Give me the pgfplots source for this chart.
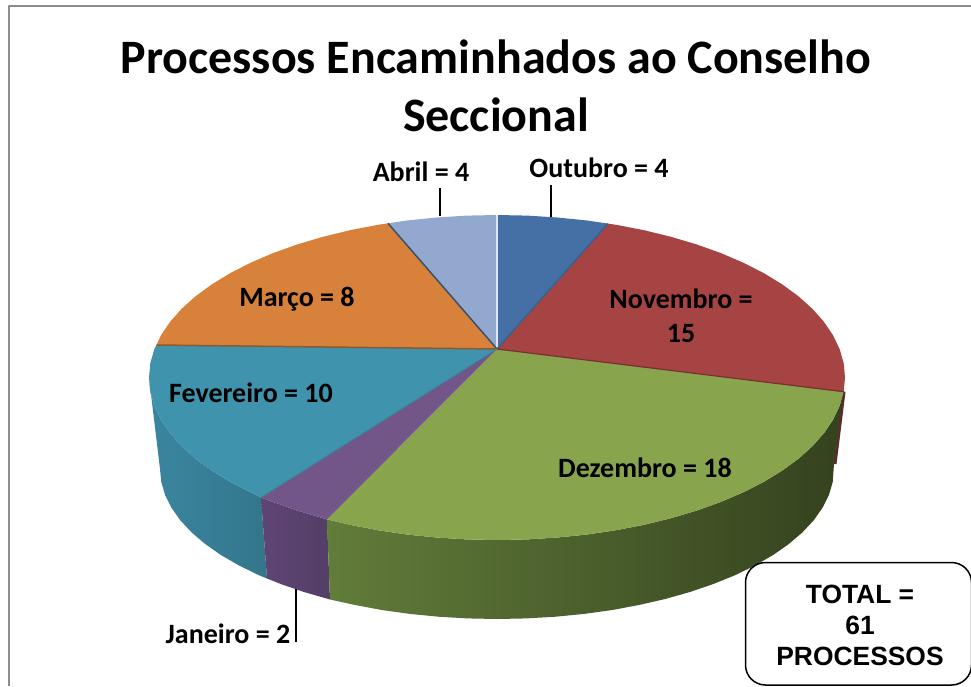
\documentclass[border=0pt]{standalone}
\usepackage{fontspec}
\setmainfont{Carlito}
\newfontfamily\arialf{Liberation Sans}
\usepackage{pgfplots}
\pgfplotsset{compat=1.18}
\definecolor{cOut}{HTML}{4470A5}
\definecolor{cNov}{HTML}{A64444}
\definecolor{cDez}{HTML}{88A54D}
\definecolor{cJan}{HTML}{72568A}
\definecolor{cFev}{HTML}{3F93AD}
\definecolor{cMar}{HTML}{D8813A}
\definecolor{cAbr}{HTML}{92A8CF}
\definecolor{wFevL}{HTML}{3A869F}
\definecolor{wFevR}{HTML}{33768B}
\definecolor{wJanL}{HTML}{5F4575}
\definecolor{wJanR}{HTML}{533E66}
\definecolor{wDezL}{HTML}{627C3A}
\definecolor{wDezM}{HTML}{3F4F25}
\definecolor{wDezR}{HTML}{34421E}
\definecolor{wNov}{HTML}{5E2A2E}
\definecolor{frame}{HTML}{8C8C8C}
\definecolor{sAO}{HTML}{DFE6F0}
\definecolor{sMA}{HTML}{3B5069}
\definecolor{sON}{HTML}{3D5F8C}
\definecolor{sFM}{HTML}{8C5A30}
\definecolor{sND}{HTML}{7A3030}
\definecolor{sFJ}{HTML}{3A7F96}
\newcommand{\lab}{\fontsize{28}{34}\selectfont\bfseries}
\begin{document}
\begin{tikzpicture}[x=1pt,y=1pt]
\path[use as bounding box] (0,0) rectangle (971,686);
\begin{axis}[
 at={(0,0)},anchor=south west,
 scale only axis,width=971pt,height=686pt,
 xmin=0,xmax=971,ymin=0,ymax=686,y dir=reverse,
 hide axis,line join=round]
% frame
\addplot[draw=frame,line width=2pt] coordinates {(8.5,686) (8.5,6) (971,6)};
% walls: Novembro sliver, Fevereiro, Janeiro, Dezembro
\addplot[fill=wNov,draw=none] coordinates {(843,391) (845.5,392) (836.5,464) (833,464)} --cycle;
\addplot[left color=wFevL,right color=wFevR,draw=none] coordinates {
 (149,377.5) (150.3,391.7) (154.3,405.7) (160.9,419.6) (170,433.1) (181.6,446.2) (195.6,458.8)
 (211.9,470.7) (230.4,482) (250.9,492.4) (261,497.5) (267,578.5) (258.7,575.1) (238.9,565.4)
 (220.9,555) (205.2,544) (191.6,532.4) (180.3,520.3) (171.5,507.8) (165.1,495) (161.3,482.1) (160,469)} --cycle;
\addplot[left color=wJanL,right color=wJanR,draw=none] coordinates {
 (261,497.5) (273.3,502) (297.4,510.6) (323,518.2) (327,519.4) (330,599.5) (303.7,591.9) (280.4,583.9) (267,578.5)} --cycle;
\addplot[left color=wDezL,middle color=wDezM,right color=wDezR,draw=none] coordinates {
 (327,519.4) (349.9,524.8) (378,530.2) (406.9,534.5) (436.6,537.5) (466.7,539.4) (497,540)
 (527.3,539.4) (557.4,537.5) (587.1,534.5) (616,530.2) (644.1,524.8) (671,518.2) (696.6,510.6)
 (720.7,502) (743.1,492.4) (763.6,482) (782.1,470.7) (798.4,458.8) (812.4,446.2) (824,433.1)
 (833.1,419.6) (839.7,405.7) (843.2,392) (834,464) (832.7,482.1) (828.9,495) (822.5,507.8)
 (813.7,520.3) (802.4,532.4) (788.8,544) (773.1,555) (755.1,565.4) (735.3,575.1) (713.6,583.9)
 (690.3,591.9) (665.5,598.9) (639.4,604.9) (612.3,610) (584.2,613.9) (555.5,616.7) (526.4,618.4)
 (497,619) (467.6,618.4) (438.5,616.7) (409.8,613.9) (381.7,610) (354.6,604.9) (330,599.5)} --cycle;
% top faces
\addplot[fill=cOut,draw=none] coordinates {(497,349) (497,215) (527.3,215.6) (557.4,217.5) (587.1,220.5) (608,223.6)} --cycle;
\addplot[fill=cNov,draw=none] coordinates {(497,349) (608,223.6) (616,224.8) (644.1,230.2) (671,236.8) (696.6,244.4)
 (720.7,253) (743.1,262.6) (763.6,273) (782.1,284.3) (798.4,296.2) (812.4,308.8) (824,321.9)
 (833.1,335.4) (839.7,349.3) (843.7,363.3) (845,377.5) (843.7,391.7)} --cycle;
\addplot[fill=cDez,draw=none] coordinates {(497,349) (843.7,391.7) (839.7,405.7) (833.1,419.6) (824,433.1) (812.4,446.2)
 (798.4,458.8) (782.1,470.7) (763.6,482) (743.1,492.4) (720.7,502) (696.6,510.6) (671,518.2)
 (644.1,524.8) (616,530.2) (587.1,534.5) (557.4,537.5) (527.3,539.4) (497,540) (466.7,539.4)
 (436.6,537.5) (406.9,534.5) (378,530.2) (349.9,524.8) (327,519.4)} --cycle;
\addplot[fill=cJan,draw=none] coordinates {(497,349) (327,519.4) (323,518.2) (297.4,510.6) (273.3,502) (261,497.5)} --cycle;
\addplot[fill=cFev,draw=none] coordinates {(497,349) (261,497.5) (250.9,492.4) (230.4,482) (211.9,470.7) (195.6,458.8)
 (181.6,446.2) (170,433.1) (160.9,419.6) (154.3,405.7) (150.3,391.7) (149,377.5) (150.3,363.3)
 (154.3,349.3) (156.5,345)} --cycle;
\addplot[fill=cMar,draw=none] coordinates {(497,349) (156.5,345) (160.9,335.4) (170,321.9) (181.6,308.8) (195.6,296.2)
 (211.9,284.3) (230.4,273) (250.9,262.6) (273.3,253) (297.4,244.4) (323,236.8) (349.9,230.2)
 (378,224.8) (388,223.3)} --cycle;
\addplot[fill=cAbr,draw=none] coordinates {(497,349) (388,223.3) (406.9,220.5) (436.6,217.5) (466.7,215.6) (497,215)} --cycle;
% separators
\addplot[draw=sAO,line width=1.5pt] coordinates {(497,349) (497,215)};
\addplot[draw=sMA,line width=1.5pt] coordinates {(497,349) (388,223.3)};
\addplot[draw=sON,line width=1.5pt] coordinates {(497,349) (608,223.6)};
\addplot[draw=sFM,line width=1.5pt] coordinates {(497,349) (156.5,345)};
\addplot[draw=sND,line width=1.2pt] coordinates {(497,349) (843.7,391.7)};
\addplot[draw=sFJ,line width=.8pt] coordinates {(497,349) (261,497.5)};
% leader lines
\addplot[draw=black,line width=1.5pt] coordinates {(440,188) (440,216)};
\addplot[draw=black,line width=1.5pt] coordinates {(551,185) (551,217)};
\addplot[draw=black,line width=1.5pt] coordinates {(296,589) (296,642)};
% total box
\draw[black,line width=1.5pt,rounded corners=20pt,fill=white] (axis cs:745.5,562.5) rectangle (axis cs:971.5,685);
% text
\node[font=\fontsize{48}{58}\selectfont\bfseries,align=center] at (axis cs:496,86) {Processos Encaminhados ao Conselho\\Seccional};
\node[font=\lab] at (axis cs:421,172) {Abril = 4};
\node[font=\lab] at (axis cs:599,168) {Outubro = 4};
\node[font=\lab] at (axis cs:297,299) {Março = 8};
\node[font=\lab,align=center] at (axis cs:681,316) {Novembro =\\15};
\node[font=\lab] at (axis cs:251,393) {Fevereiro = 10};
\node[font=\lab] at (axis cs:645,468) {Dezembro = 18};
\node[font=\lab] at (axis cs:228,634) {Janeiro = 2};
\node[font=\fontsize{26.4}{31}\selectfont\arialf\bfseries,align=center] at (axis cs:860,625) {TOTAL =\\61\\PROCESSOS};
\end{axis}
\end{tikzpicture}
\end{document}
